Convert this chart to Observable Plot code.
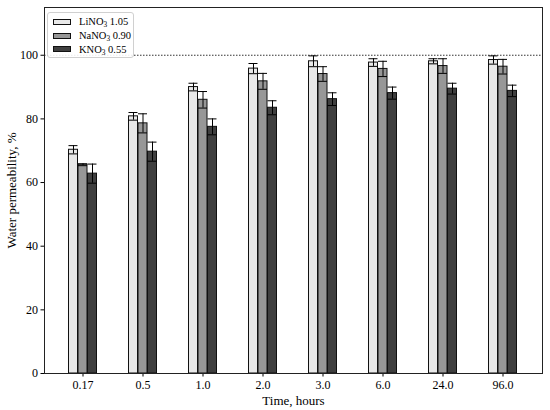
<!DOCTYPE html>
<html>
<head>
<meta charset="utf-8">
<script src="https://cdn.jsdelivr.net/npm/d3@7"></script>
<script src="https://cdn.jsdelivr.net/npm/@observablehq/plot@0.6"></script>
<style>
  body { margin: 0; background: white; }
  #wrap { position: relative; width: 550px; height: 410px; font-family: "Liberation Serif", "Times New Roman", serif; }
  #wrap svg, #wrap svg text { font-family: "Liberation Serif", "Times New Roman", serif !important; }
  #legend { position: absolute; left: 47px; top: 12px; width: 87px; height: 46px; box-sizing: border-box;
            border: 1px solid #d0d0d0; border-radius: 3px; background: rgba(255,255,255,0.9);
            font-size: 10.5px; color: #000; padding: 2px 0 0 5px; }
  .row { display: flex; align-items: center; height: 13.8px; }
  .sw { width: 18px; height: 6px; border: 1px solid #111; box-sizing: border-box; margin-right: 8px; }
  sub { font-size: 70%; vertical-align: -2px; line-height: 0; }
</style>
</head>
<body>
<div id="wrap"></div>
<script>
const times = ["0.17", "0.5", "1.0", "2.0", "3.0", "6.0", "24.0", "96.0"];
const seriesNames = ["LiNO3 1.05", "NaNO3 0.90", "KNO3 0.55"];
const seriesColors = ["#e8e8e8", "#979797", "#3f3f3f"];
const li = [70.3, 80.8, 90.0, 95.8, 98.1, 97.7, 98.1, 98.5];
const liErr = [1.3, 1.2, 1.2, 1.6, 1.7, 1.2, 0.8, 1.3];
const na = [65.6, 78.6, 86.0, 91.8, 94.1, 95.7, 96.6, 96.4];
const naErr = [0.3, 3.0, 2.6, 2.5, 2.3, 2.4, 2.3, 2.3];
const kno = [62.8, 69.7, 77.5, 83.5, 86.2, 88.1, 89.5, 88.8];
const knoErr = [3.0, 3.0, 2.5, 2.2, 2.0, 1.9, 1.7, 1.8];
const yTicks = [0, 20, 40, 60, 80, 100];
const refLine = [100];

const values = [li, na, kno];
const errs = [liErr, naErr, knoErr];

// layout
const W = 550, H = 410, mL = 44, mR = 8, mT = 7, mB = 37;
const pInner = 0.844, pOuter = 0.51;
const step = (W - mL - mR) / (times.length - pInner + 2 * pOuter);
const bw = step * (1 - pInner);

const marks = [
  Plot.ruleY(refLine, {stroke: "#333", strokeWidth: 1, strokeDasharray: "1.5,1.5"})
];
seriesNames.forEach((s, j) => {
  const rows = times.map((t, i) => ({time: t, series: s, value: values[j][i], err: errs[j][i]}));
  const dx = (j - 1) * bw;
  marks.push(
    Plot.barY(rows, {x: "time", y: "value", fill: "series", stroke: "#111", strokeWidth: 1, dx}),
    Plot.ruleX(rows, {x: "time", y1: d => d.value - d.err, y2: d => d.value + d.err, stroke: "#000", strokeWidth: 1, dx}),
    Plot.tickY(rows, {x: "time", y: d => d.value + d.err, stroke: "#000", strokeWidth: 1, dx}),
    Plot.tickY(rows, {x: "time", y: d => d.value - d.err, stroke: "#000", strokeWidth: 1, dx})
  );
});
marks.push(
  Plot.axisY({ticks: yTicks, tickSize: 3.5, tickPadding: 3, fontSize: 12, label: null}),
  Plot.axisY({ticks: [], tickSize: 0, fontSize: 13, label: "Water permeability, %", labelAnchor: "center", labelArrow: "none", labelOffset: 38}),
  Plot.axisX({tickSize: 3.5, tickPadding: 3, fontSize: 12, label: null}),
  Plot.axisX({ticks: [], tickSize: 0, fontSize: 13, label: "Time, hours", labelAnchor: "center", labelArrow: "none", labelOffset: 31}),
  Plot.frame({stroke: "#222", strokeWidth: 1})
);

const chart = Plot.plot({
  width: W,
  height: H,
  marginTop: mT,
  marginBottom: mB,
  marginLeft: mL,
  marginRight: mR,
  style: {fontFamily: "'Liberation Serif', 'Times New Roman', serif", fontSize: "12px", color: "#000", background: "white"},
  x: {type: "band", domain: times, paddingInner: pInner, paddingOuter: pOuter},
  y: {domain: [0, 115]},
  color: {domain: seriesNames, range: seriesColors},
  marks
});

const wrap = document.getElementById("wrap");
wrap.appendChild(chart);

const legend = document.createElement("div");
legend.id = "legend";
legend.innerHTML = ["Li", "Na", "K"].map((el, j) => {
  const rest = seriesNames[j].split(" ")[1];
  return `<div class="row"><span class="sw" style="background:${seriesColors[j]}"></span><span>${el}NO<sub>3</sub> ${rest}</span></div>`;
}).join("");
wrap.appendChild(legend);
</script>
</body>
</html>
